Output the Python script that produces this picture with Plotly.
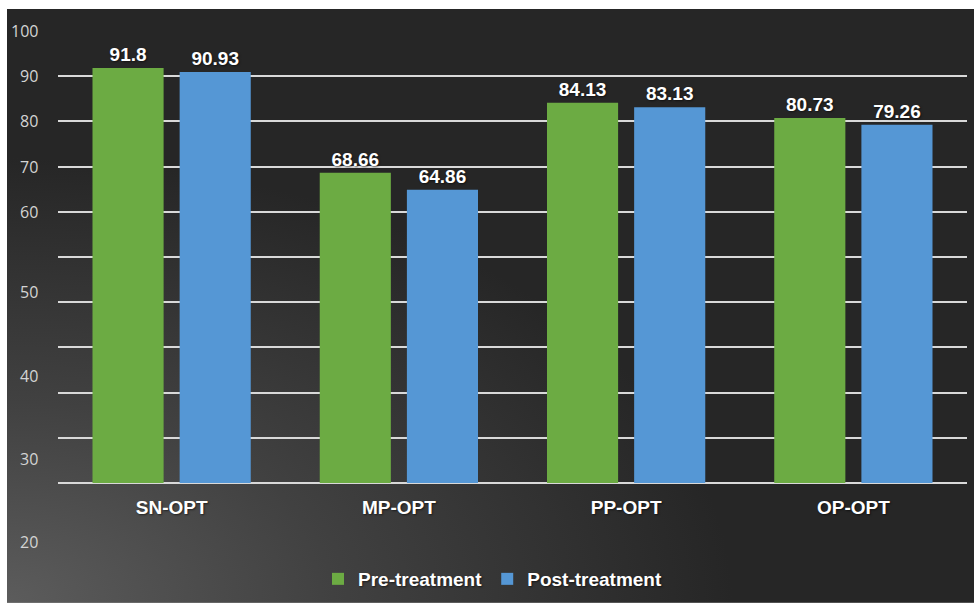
import base64
import plotly.graph_objects as go

# Chart data
categories = ["SN-OPT", "MP-OPT", "PP-OPT", "OP-OPT"]
pre_treatment = [91.8, 68.66, 84.13, 80.73]
post_treatment = [90.93, 64.86, 83.13, 79.26]

# Vertical axis labels as printed, and the value each one sits beside
y_label_text = ["100", "90", "80", "70", "60", "50", "40", "30", "20"]
y_label_pos = [100, 90, 80, 70, 60, 42.2, 23.6, 5.3, -13.0]

Y_MIN, Y_MAX = 0, 100

GREEN = "#6cab43"
BLUE = "#5597d5"
BOLD_FONT = dict(family="Liberation Sans, Arial, sans-serif", size=19,
                 color="white", weight="bold",
                 shadow="1px 1px 2px rgba(0,0,0,0.55)")

# Dark backdrop with a soft light glow in the lower-left corner
svg = """<svg xmlns='http://www.w3.org/2000/svg' width='967' height='595'
 viewBox='0 0 967 595' preserveAspectRatio='none'>
<defs><radialGradient id='g' cx='0' cy='1' r='0.75' fx='0' fy='1'>
<stop offset='0' stop-color='#5c5c5c'/>
<stop offset='0.45' stop-color='#414141'/>
<stop offset='1' stop-color='#262626'/>
</radialGradient></defs>
<rect width='967' height='595' fill='#262626'/>
<rect width='967' height='595' fill='url(#g)'/>
</svg>"""
bg_uri = "data:image/svg+xml;base64," + base64.b64encode(svg.encode()).decode()

fig = go.Figure()
fig.add_trace(go.Bar(
    name="Pre-treatment", x=categories, y=pre_treatment,
    marker=dict(color=GREEN, line=dict(width=0)),
    text=[f"{v:g}" for v in pre_treatment], textposition="outside",
    textfont=BOLD_FONT, cliponaxis=False, constraintext="none",
))
fig.add_trace(go.Bar(
    name="Post-treatment", x=categories, y=post_treatment,
    marker=dict(color=BLUE, line=dict(width=0)),
    text=[f"{v:g}" for v in post_treatment], textposition="outside",
    textfont=BOLD_FONT, cliponaxis=False, constraintext="none",
))

# Axis labels placed as paper fractions so the lowest one can sit below the axis
annotations = [
    dict(text=t, x=-0.0198, y=(p - Y_MIN) / (Y_MAX - Y_MIN),
         xref="paper", yref="paper",
         xanchor="right", yanchor="middle", showarrow=False,
         font=dict(family="Open Sans, Noto Sans, sans-serif", size=16,
                   color="#d4d4d4"))
    for t, p in zip(y_label_text, y_label_pos)
]

fig.update_layout(
    width=974, height=604,
    margin=dict(l=58, r=7, t=31, b=120),
    paper_bgcolor="white",
    plot_bgcolor="rgba(0,0,0,0)",
    barmode="group", bargap=0.233, bargroupgap=0.184,
    images=[dict(source=bg_uri, xref="paper", yref="paper",
                 x=-0.0561, y=1.0486, sizex=1.0638, sizey=1.3135,
                 xanchor="left", yanchor="top", sizing="stretch",
                 layer="below")],
    xaxis=dict(showgrid=False, showline=False, ticks="",
               tickfont=BOLD_FONT, ticklabelstandoff=11, fixedrange=True),
    yaxis=dict(range=[Y_MIN, Y_MAX], dtick=10, showgrid=True,
               gridcolor="#d9d9d9", gridwidth=2,
               zeroline=True, zerolinecolor="#d9d9d9", zerolinewidth=2,
               showticklabels=False, ticks="", fixedrange=True),
    legend=dict(orientation="h", x=0.478, xanchor="center",
                y=-0.2097, yanchor="middle",
                font=BOLD_FONT, bgcolor="rgba(0,0,0,0)",
                itemwidth=30, traceorder="normal"),
    annotations=annotations,
    showlegend=True,
)

fig.write_html("out.html")
